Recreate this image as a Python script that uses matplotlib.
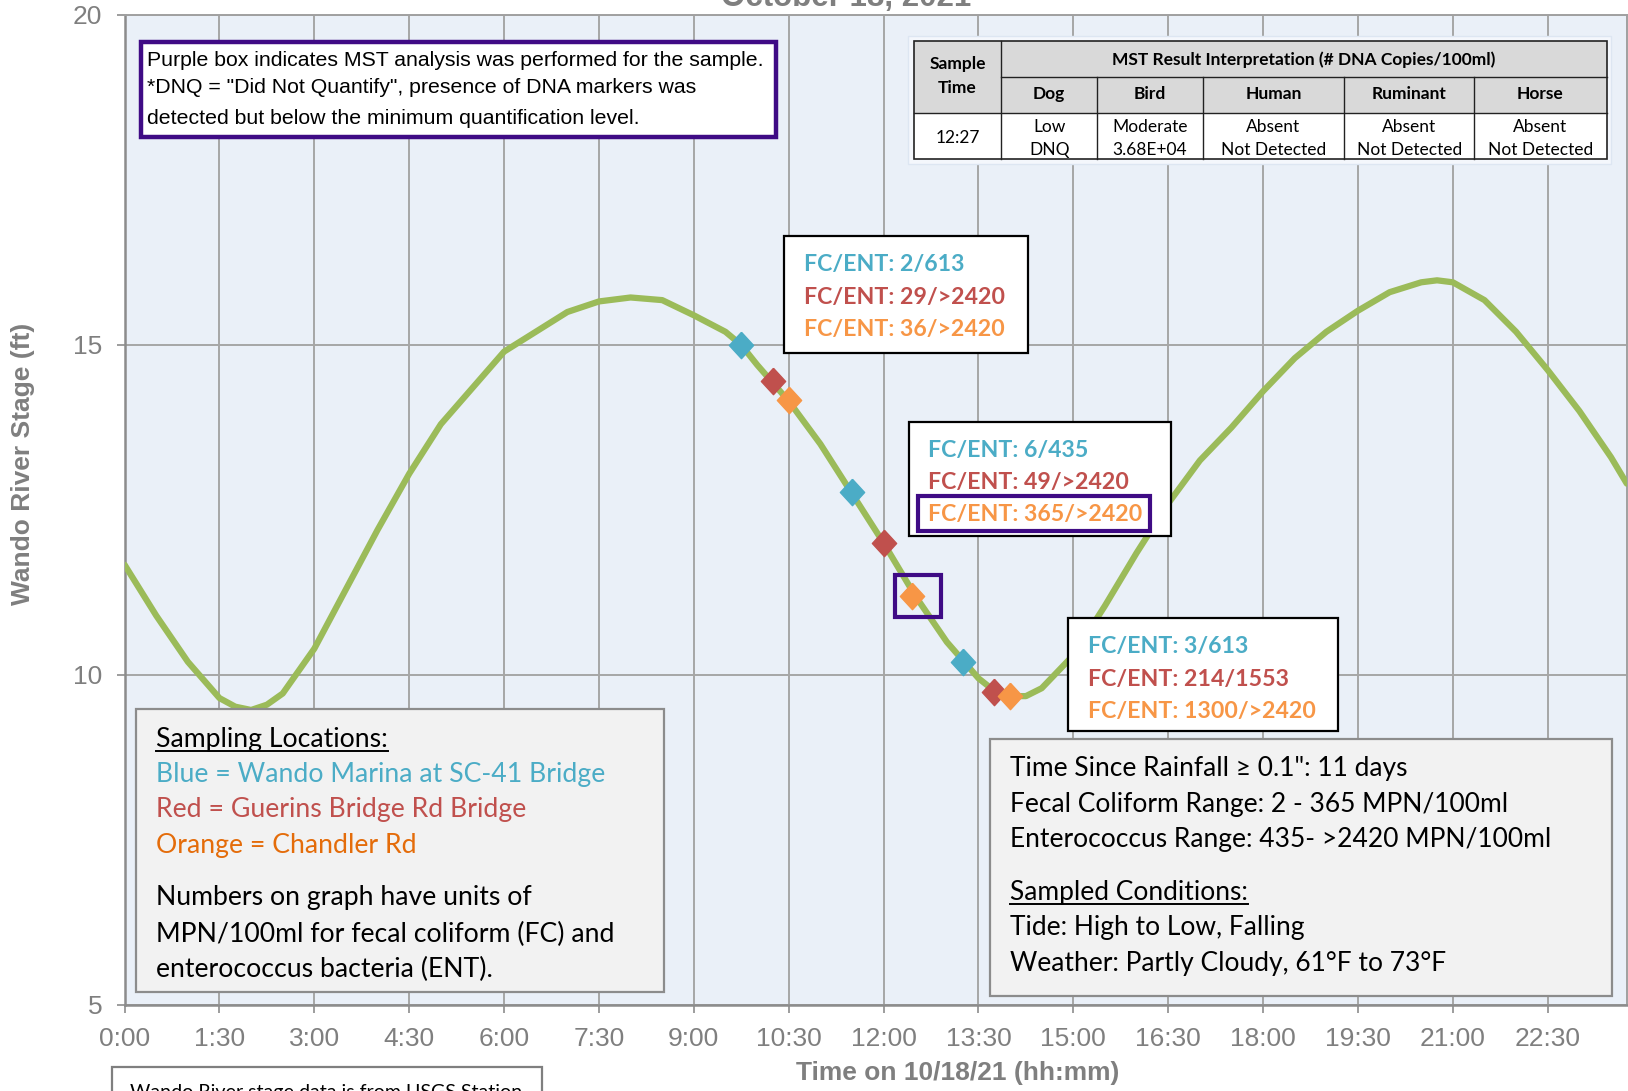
import matplotlib
matplotlib.use("Agg")
import matplotlib.pyplot as plt
from matplotlib.patches import Rectangle
from matplotlib.lines import Line2D
from matplotlib.transforms import Affine2D

# Wando River stage (ft)
tide_hours = [0.0, 0.5, 1.0, 1.5, 1.75, 2.0, 2.25, 2.5, 3.0, 3.5, 4.0, 4.5, 5.0, 5.5, 6.0,
              6.5, 7.0, 7.5, 8.0, 8.5, 9.0, 9.5, 9.75, 10.0, 10.5, 11.0, 11.5, 12.0, 12.5,
              13.0, 13.5, 13.75, 14.0, 14.25, 14.5, 15.0, 15.5, 16.0, 16.5, 17.0, 17.5,
              18.0, 18.5, 19.0, 19.5, 20.0, 20.5, 20.75, 21.0, 21.5, 22.0, 22.5, 23.0,
              23.5, 23.75]
tide_stage = [11.67, 10.9, 10.2, 9.65, 9.52, 9.47, 9.55, 9.72, 10.4, 11.3, 12.2, 13.05,
              13.8, 14.35, 14.9, 15.2, 15.5, 15.66, 15.72, 15.68, 15.45, 15.2, 15.0, 14.7,
              14.15, 13.5, 12.75, 12.0, 11.2, 10.5, 9.95, 9.76, 9.68, 9.68, 9.8, 10.3,
              11.05, 11.85, 12.6, 13.25, 13.75, 14.3, 14.8, 15.2, 15.52, 15.8, 15.95,
              15.98, 15.95, 15.68, 15.2, 14.62, 14.0, 13.3, 12.9]

# sample points (time in hours, stage in ft)
blue_hours = [9.75, 11.5, 13.25]
blue_stage = [15.0, 12.78, 10.2]
red_hours = [10.25, 12.0, 13.75]
red_stage = [14.45, 12.0, 9.74]
orange_hours = [10.5, 12.45, 14.0]
orange_stage = [14.17, 11.19, 9.68]

tick_hours = [0, 1.5, 3, 4.5, 6, 7.5, 9, 10.5, 12, 13.5, 15, 16.5, 18, 19.5, 21, 22.5]
tick_labels = ['0:00', '1:30', '3:00', '4:30', '6:00', '7:30', '9:00', '10:30', '12:00',
               '13:30', '15:00', '16:30', '18:00', '19:30', '21:00', '22:30']
ytick_vals = [5, 10, 15, 20]

fc_blue = ['FC/ENT: 2/613', 'FC/ENT: 6/435', 'FC/ENT: 3/613']
fc_red = ['FC/ENT: 29/>2420', 'FC/ENT: 49/>2420', 'FC/ENT: 214/1553']
fc_orange = ['FC/ENT: 36/>2420', 'FC/ENT: 365/>2420', 'FC/ENT: 1300/>2420']

mst_groups = ['Dog', 'Bird', 'Human', 'Ruminant', 'Horse']
mst_level = ['Low', 'Moderate', 'Absent', 'Absent', 'Absent']
mst_value = ['DNQ', '3.68E+04', 'Not Detected', 'Not Detected', 'Not Detected']
mst_time = '12:27'

BLUE = '#4BACC6'
RED = '#C0504D'
ORANGE = '#F79646'
GREEN = '#9BBB59'
PURPLE = '#3F0B85'
GRAY = '#7F7F7F'
CAL = ['Lato', 'DejaVu Sans']
ARIAL = ['Liberation Sans', 'DejaVu Sans']

W, H = 1628, 1091
fig = plt.figure(figsize=(W / 100, H / 100), dpi=100)
px = Affine2D().scale(1 / W, -1 / H).translate(0, 1) + fig.transFigure

x0, x1, ytop, ybot = 124.6, 1626.8, 15, 1005
ax = fig.add_axes([x0 / W, 1 - ybot / H, (x1 - x0) / W, (ybot - ytop) / H])
ax.set_facecolor('#EAF0F8')
ax.set_xlim(0, 23.75)
ax.set_ylim(5, 20)

ax.plot(tide_hours, tide_stage, color=GREEN, lw=4.5, zorder=3,
        solid_capstyle='round', solid_joinstyle='round')
diamond = [(0, 1), (0.92, 0), (0, -1), (-0.92, 0), (0, 1)]
for hrs, stg, col in [(blue_hours, blue_stage, BLUE), (red_hours, red_stage, RED),
                      (orange_hours, orange_stage, ORANGE)]:
    ax.plot(hrs, stg, ls='none', marker=diamond, ms=19, color=col, mec=col, zorder=4)

ax.set_xticks(tick_hours)
ax.set_xticklabels(tick_labels, fontsize=19, color=GRAY, family=ARIAL)
ax.set_yticks(ytick_vals)
ax.set_yticklabels([str(v) for v in ytick_vals], fontsize=19, color=GRAY, family=ARIAL)
ax.tick_params(axis='x', length=6, width=1.2, color='#8C8C8C', pad=10)
ax.tick_params(axis='y', length=6, width=1.2, color='#8C8C8C', pad=10)
ax.grid(True, color='#A6A6A6', lw=1.4)
ax.set_axisbelow(True)
for side in ['left', 'bottom']:
    ax.spines[side].set_color('#8C8C8C')
    ax.spines[side].set_linewidth(1.8)
for side in ['top', 'right']:
    ax.spines[side].set_color('#A0A0A0')
    ax.spines[side].set_linewidth(1.4)

# titles / axis labels (title is cut off at top of the image)
fig.text(846, 6, 'October 18, 2021', transform=px, ha='center', va='baseline',
         fontsize=22.5, fontweight='bold', color=GRAY, family=ARIAL)
fig.text(958, 1073, 'Time on 10/18/21 (hh:mm)', transform=px, ha='center', va='center',
         fontsize=19, fontweight='bold', color=GRAY, family=ARIAL)
fig.text(23, 464, 'Wando River Stage (ft)', transform=px, ha='center', va='center',
         rotation=90, fontsize=19, fontweight='bold', color=GRAY, family=ARIAL)


def box(xa, ya, xb, yb, fc='white', ec='black', lw=1.5, z=5):
    r = Rectangle((xa, ya), xb - xa, yb - ya, transform=px, facecolor=fc,
                  edgecolor=ec, lw=lw, zorder=z)
    fig.add_artist(r)
    return r


def line(xa, ya, xb, yb, color='black', lw=1.0, z=7):
    fig.add_artist(Line2D([xa, xb], [ya, yb], transform=px, color=color, lw=lw, zorder=z))


# purple note box
box(141, 42, 776, 137, ec=PURPLE, lw=3.2)
note = ['Purple box indicates MST analysis was performed for the sample.',
        '*DNQ = "Did Not Quantify", presence of DNA markers was',
        'detected but below the minimum quantification level.']
for i, s in enumerate(note):
    fig.text(147, [66, 93, 124][i], s, transform=px, va='baseline', fontsize=15.3,
             family=ARIAL, zorder=8)

# MST table
box(908, 36, 1611, 164, fc='#F4F7FC', ec='#DDE6F2', lw=1, z=5)
col_edges = [913.9, 1001.2, 1097.3, 1202.7, 1344.3, 1474.3, 1606.6]
row_edges = [41, 76.7, 113.3, 159]
box(col_edges[0], row_edges[0], col_edges[-1], row_edges[2], fc='#D9D9D9', ec='none', z=6)
box(col_edges[0], row_edges[2], col_edges[-1], row_edges[3], fc='white', ec='none', z=6)
box(col_edges[0], row_edges[0], col_edges[-1], row_edges[3], fc='none', ec='#222222', lw=1.2, z=7)
line(col_edges[1], row_edges[1], col_edges[-1], row_edges[1], color='#222222')
line(col_edges[0], row_edges[2], col_edges[-1], row_edges[2], color='#222222')
line(col_edges[1], row_edges[0], col_edges[1], row_edges[3], color='#222222')
for xe in col_edges[2:-1]:
    line(xe, row_edges[1], xe, row_edges[3], color='#222222')
TFS = 12.5
fig.text((col_edges[1] + col_edges[-1]) / 2, 65, 'MST Result Interpretation (# DNA Copies/100ml)',
         transform=px, ha='center', va='baseline', fontsize=TFS, fontweight='bold',
         family=CAL, zorder=8)
cx0 = (col_edges[0] + col_edges[1]) / 2
fig.text(cx0, 69, 'Sample', transform=px, ha='center', va='baseline', fontsize=TFS,
         fontweight='bold', family=CAL, zorder=8)
fig.text(cx0, 93, 'Time', transform=px, ha='center', va='baseline', fontsize=TFS,
         fontweight='bold', family=CAL, zorder=8)
fig.text(cx0, 143, mst_time, transform=px, ha='center', va='baseline', fontsize=TFS,
         family=CAL, zorder=8)
for i, g in enumerate(mst_groups):
    cx = (col_edges[i + 1] + col_edges[i + 2]) / 2
    fig.text(cx, 99, g, transform=px, ha='center', va='baseline', fontsize=TFS,
             fontweight='bold', family=CAL, zorder=8)
    fig.text(cx, 131.5, mst_level[i], transform=px, ha='center', va='baseline',
             fontsize=TFS, family=CAL, zorder=8)
    fig.text(cx, 155, mst_value[i], transform=px, ha='center', va='baseline',
             fontsize=TFS, family=CAL, zorder=8)

# FC/ENT callouts
callouts = [(784, 236, 1028, 353), (908.5, 421.5, 1171, 536), (1068.3, 618.3, 1337.7, 730.7)]
for k, (xa, ya, xb, yb) in enumerate(callouts):
    box(xa, ya, xb, yb, lw=1.6)
    for j, (s, c) in enumerate([(fc_blue[k], BLUE), (fc_red[k], RED), (fc_orange[k], ORANGE)]):
        fig.text(xa + 20, ya + [35, 67.7, 100][j], s, transform=px, va='baseline',
                 fontsize=16.7, fontweight='bold', color=c, family=CAL, zorder=8)
box(918, 496, 1150, 530.6, fc='none', ec=PURPLE, lw=3, z=8)
box(895, 575, 941, 617, fc='none', ec=PURPLE, lw=3, z=8)

# sampling locations box
box(136, 709, 663.5, 991.6, fc='#F2F2F2', ec='#8C8C8C', lw=1.6)
left_lines = [('Sampling Locations:', 'black', 746.7),
              ('Blue = Wando Marina at SC-41 Bridge', BLUE, 781.7),
              ('Red = Guerins Bridge Rd Bridge', RED, 817.3),
              ('Orange = Chandler Rd', '#E46C0A', 853.3),
              ('Numbers on graph have units of', 'black', 905),
              ('MPN/100ml for fecal coliform (FC) and', 'black', 941.7),
              ('enterococcus bacteria (ENT).', 'black', 976.7)]
heads = []
for s, c, yb in left_lines:
    t = fig.text(156, yb, s, transform=px, va='baseline', fontsize=19.2, color=c,
                 family=CAL, zorder=8)
    if s == 'Sampling Locations:':
        heads.append((t, yb))

# conditions box
box(989.5, 739.3, 1612, 995.7, fc='#F2F2F2', ec='#8C8C8C', lw=1.6)
right_lines = [('Time Since Rainfall \u2265 0.1": 11 days', 776),
               ('Fecal Coliform Range: 2 - 365 MPN/100ml', 811.7),
               ('Enterococcus Range: 435- >2420 MPN/100ml', 847.3),
               ('Sampled Conditions:', 900),
               ('Tide: High to Low, Falling', 935),
               ('Weather: Partly Cloudy, 61\u00b0F to 73\u00b0F', 970.7)]
for s, yb in right_lines:
    t = fig.text(1009.8, yb, s, transform=px, va='baseline', fontsize=19, color='black',
                 family=CAL, zorder=8)
    if s == 'Sampled Conditions:':
        heads.append((t, yb))

# source box, cut off at bottom
box(112, 1067, 542, 1100, fc='white', ec='#7F7F7F', lw=1.6)
fig.text(130, 1084, 'Wando River stage data is from USGS Station', transform=px, va='top',
         fontsize=14.1, family=CAL, zorder=8)

# underline headings
fig.canvas.draw()
rend = fig.canvas.get_renderer()
for t, yb in heads:
    bb = t.get_window_extent(rend)
    line(bb.x0, yb + 4, bb.x1, yb + 4, color='black', lw=1.4, z=8)

fig.savefig('out.png', dpi=100)
